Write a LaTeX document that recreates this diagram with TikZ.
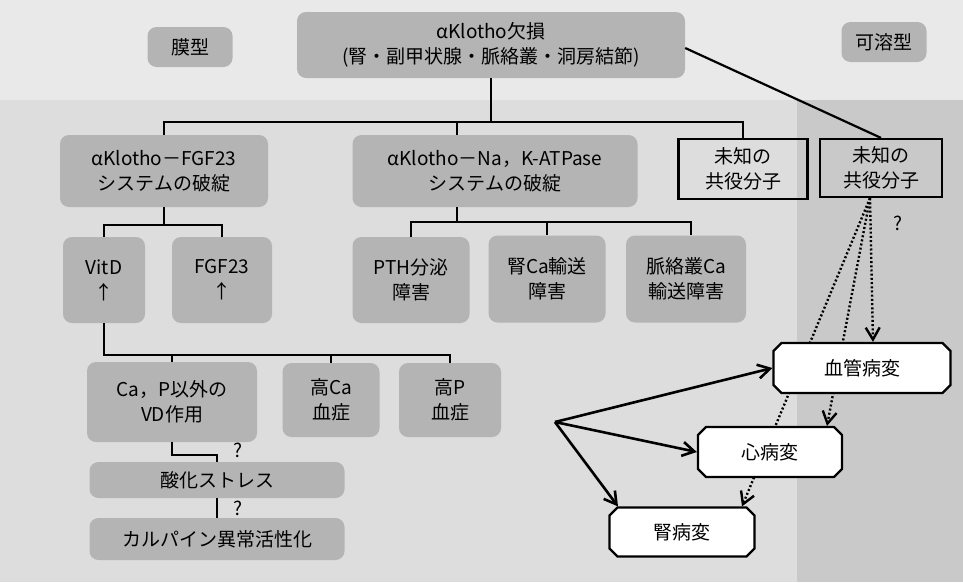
\documentclass[tikz,border=0pt]{standalone}
\usepackage{fontspec}
\setmainfont{Noto Sans CJK JP}
\usetikzlibrary{arrows.meta,shapes.misc,calc}
\definecolor{bgtop}{HTML}{E9E9E9}
\definecolor{panelA}{HTML}{DDDDDD}
\definecolor{panelB}{HTML}{C9C9C9}
\definecolor{boxgray}{HTML}{B4B4B4}
\pgfdeclarelayer{back}
\pgfdeclarelayer{mid}
\pgfsetlayers{back,mid,main}
\begin{document}
\begin{tikzpicture}[x=1pt,y=-1pt,
  every node/.style={font=\fontsize{19}{25}\selectfont, align=center, inner sep=0pt},
  gbox/.style={fill=boxgray, rounded corners=9pt},
  ubox/.style={draw, line width=2.2pt},
  cbox/.style={chamfered rectangle, chamfered rectangle xsep=4pt, chamfered rectangle ysep=4pt, draw, fill=white, line width=2.2pt},
  conn/.style={line width=2.2pt},
  arr/.style={line width=2.6pt, -{Straight Barb[length=12pt,width=14pt]}},
  dotarr/.style={line width=2.4pt, dash pattern=on 2pt off 2.2pt, -{Straight Barb[length=12pt,width=14pt]}},
  qm/.style={font=\fontsize{19}{20}\selectfont}
]
\useasboundingbox (0,0) rectangle (963,582);
\begin{pgfonlayer}{back}
\fill[bgtop] (0,0) rectangle (963,582);
\fill[panelA] (0,100) rectangle (797,582);
\fill[panelB] (797,100) rectangle (963,582);
\end{pgfonlayer}

% labels
\node[gbox, minimum width=85pt, minimum height=40pt] (mem) at (190,47) {膜型};
\node[gbox, minimum width=85pt, minimum height=40pt] (sol) at (884,42) {可溶型};

% top
\node[gbox, minimum width=388pt, minimum height=66pt] (top) at (491,45) {αKlotho欠損\\(腎・副甲状腺・脈絡叢・洞房結節)};

% second row
\node[gbox, minimum width=208pt, minimum height=72pt] (fgfsys) at (164,171) {αKlotho－FGF23\\システムの破綻};
\node[gbox, minimum width=285pt, minimum height=72pt] (nasys) at (495,171) {αKlotho－Na，K-ATPase\\システムの破綻};
\node[ubox, minimum width=129pt, minimum height=60pt] (unk1) at (743,169) {未知の\\共役分子};
\node[ubox, minimum width=122pt, minimum height=58pt] (unk2) at (881,168) {未知の\\共役分子};

% third row
\node[gbox, minimum width=82pt, minimum height=86pt] (vitd) at (104,280) {VitD\\↑};
\node[gbox, minimum width=100pt, minimum height=86pt] (fgf23) at (222,280) {FGF23\\↑};
\node[gbox, minimum width=117pt, minimum height=86pt] (pth) at (411,280) {PTH分泌\\障害};
\node[gbox, minimum width=117pt, minimum height=87pt] (renca) at (547,279) {腎Ca輸送\\障害};
\node[gbox, minimum width=120pt, minimum height=87pt] (cpca) at (686,279) {脈絡叢Ca\\輸送障害};

% fourth row
\node[gbox, minimum width=170pt, minimum height=80pt] (vdact) at (172,402) {Ca，P以外の\\VD作用};
\node[gbox, minimum width=97pt, minimum height=74pt] (hca) at (331,400) {高Ca\\血症};
\node[gbox, minimum width=102pt, minimum height=74pt] (hp) at (450,400) {高P\\血症};
\node[gbox, minimum width=255pt, minimum height=36pt] (ox) at (217,480) {酸化ストレス};
\node[gbox, minimum width=255pt, minimum height=42pt] (cal) at (217,539) {カルパイン異常活性化};

% disease boxes
\node[cbox, minimum width=177pt, minimum height=50pt] (vasc) at (862,368) {血管病変};
\node[cbox, minimum width=144pt, minimum height=50pt] (heart) at (770,452) {心病変};
\node[cbox, minimum width=145pt, minimum height=49pt] (kidney) at (682,532) {腎病変};

\coordinate (src) at (555,422);

% question marks
\node[qm] (q1) at (898,223) {?};
\node[qm] (q2) at (238,450) {?};
\node[qm] (q3) at (238,508) {?};

% tree connectors
\draw[conn] (top.south) -- (top.south |- 0,122);
\draw[conn] (fgfsys.north) -- (fgfsys.north |- 0,122) -- (unk1.north |- 0,122) -- (unk1.north);
\draw[conn] ([xshift=-38pt]nasys.north) -- ([xshift=-38pt]nasys.north |- 0,122);
\draw[conn] ([yshift=-3pt]top.east) -- (unk2.north);

\draw[conn] (fgfsys.south) -- (fgfsys.south |- 0,225);
\draw[conn] (vitd.north) -- (vitd.north |- 0,225) -- (fgf23.north |- 0,225) -- (fgf23.north);

\draw[conn] ([xshift=-38pt]nasys.south) -- ([xshift=-38pt]nasys.south |- 0,222);
\draw[conn] (pth.north) -- (pth.north |- 0,222) -- ([xshift=5pt]cpca.north |- 0,222) -- ([xshift=5pt]cpca.north);
\draw[conn] (renca.north) -- (renca.north |- 0,222);

\draw[conn] (vitd.south) -- (vitd.south |- 0,355) -- (hp.north |- 0,355) -- (hp.north);
\draw[conn] (vdact.north) -- (vdact.north |- 0,355);
\draw[conn] (hca.north) -- (hca.north |- 0,355);

\draw[conn] (vdact.south) -- ++(0,13) -| (ox.north);
\draw[conn] (ox.south) -- (cal.north);

% arrows
\draw[arr] (src) -- (vasc.west);
\draw[arr] (src) -- (heart.west);
\draw[arr] (src) -- ([xshift=-64pt]kidney.north);

\begin{pgfonlayer}{mid}
\draw[dotarr] ([xshift=-11pt]unk2.south) -- ([xshift=11pt]vasc.north);
\draw[dotarr] ([xshift=-11pt]unk2.south) -- ([xshift=57pt]heart.north);
\draw[dotarr] ([xshift=-11pt]unk2.south) -- ([xshift=60pt]kidney.north);
\end{pgfonlayer}
\end{tikzpicture}
\end{document}
